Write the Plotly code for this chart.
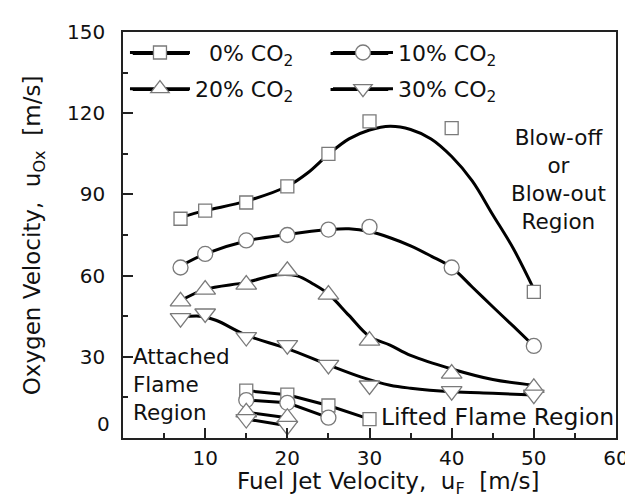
import plotly.graph_objects as go

# ---- measured points (markers) ----
u_fuel = [7, 10, 15, 20, 25, 30, 40, 50]
uox_co2_0 = [81, 84, 87, 93, 105, 117, 114.5, 54]
uox_co2_10 = [63, 68, 73, 75, 77, 78, 63, 34]
uox_co2_20 = [50.5, 54.8, 56.7, 61.8, 53, 36, 23.8, 18.5]
uox_co2_30 = [44.3, 46, 37.3, 34.3, 27, 19.4, 17.3, 16]

# ---- fitted curves ----
fit0_x = [7, 10, 15, 20, 22.5, 25, 27.5, 30, 32.5, 35, 37.5, 40, 42.5, 45, 47.5, 50]
fit0_y = [81.5, 84, 87.5, 93, 98, 104.8, 110.5, 113.8, 115.2, 114, 110.5, 104, 95, 82.5, 70, 55]
fit10_x = [7, 10, 15, 20, 25, 27.5, 30, 32.5, 35, 37.5, 40, 42.5, 45, 47.5, 50]
fit10_y = [63.5, 68, 72.8, 75.2, 77, 77.3, 76.3, 74, 71, 67.2, 63, 55.8, 48.5, 41.3, 34]
fit20_x = [7, 10, 15, 18.8, 21.2, 23.2, 25, 27.5, 30, 32.5, 35, 40, 45, 50]
fit20_y = [50.7, 54.9, 57.5, 60.3, 59.9, 56.8, 53.2, 45.3, 37.5, 34.3, 30.5, 25.5, 21.6, 19.5]
fit30_x = [7, 9.3, 11.3, 15, 20, 25, 29, 32.5, 35, 40, 45, 50]
fit30_y = [44.5, 45, 43.5, 38, 33, 27, 22.5, 19.5, 18.4, 17.1, 16.5, 15.9]

# ---- lifted-flame (lower) branch ----
lift0_x = [15, 20, 25, 30]
lift0_y = [17.5, 16, 12, 7]
lift10_x = [15, 20, 25]
lift10_y = [14, 13, 7.5]
lift20_x = [15, 20]
lift20_y = [9.5, 7.5]
lift30_x = [15, 20]
lift30_y = [7, 4.5]

names = ["\u20070% CO<sub>2</sub>", "10% CO<sub>2</sub>", "20% CO<sub>2</sub>", "30% CO<sub>2</sub>"]
x_ticks = [10, 20, 30, 40, 50, 60]
y_ticks = [0, 30, 60, 90, 120, 150]

FONT = "DejaVu Sans"
TXT = "#111111"
symbols = ["square", "circle", "triangle-up", "triangle-down"]
msizes = [13, 15, 18, 18]

def mk(i):
    return dict(symbol=symbols[i], size=msizes[i], color="white",
                line=dict(color="#7a7a7a", width=1.3))

line_style = dict(color="black", width=3)

fig = go.Figure()

fits = [(fit0_x, fit0_y), (fit10_x, fit10_y), (fit20_x, fit20_y), (fit30_x, fit30_y)]
for fx, fy in fits:
    fig.add_trace(go.Scatter(x=fx, y=fy, mode="lines", line=dict(shape="spline", **line_style),
                             showlegend=False, hoverinfo="skip"))

lifts = [(lift0_x, lift0_y), (lift10_x, lift10_y), (lift20_x, lift20_y), (lift30_x, lift30_y)]
for lx, ly in lifts:
    fig.add_trace(go.Scatter(x=lx, y=ly, mode="lines", line=line_style,
                             showlegend=False, hoverinfo="skip"))

main = [uox_co2_0, uox_co2_10, uox_co2_20, uox_co2_30]
for i, ys in enumerate(main):
    fig.add_trace(go.Scatter(x=u_fuel, y=ys, mode="markers", marker=mk(i), showlegend=False))
for i, (lx, ly) in enumerate(lifts):
    fig.add_trace(go.Scatter(x=lx, y=ly, mode="markers", marker=mk(i), showlegend=False))

# legend entries (two legends = two rows)
for i in range(4):
    fig.add_trace(go.Scatter(x=[None], y=[None], mode="lines+markers", name=names[i],
                             line=line_style, marker=mk(i),
                             legend="legend" if i in (0, 1) else "legend2"))

axis_common = dict(showline=True, linecolor="#222222", linewidth=1.5, mirror=True,
                   ticks="inside", ticklen=10, tickwidth=1.5, tickcolor="#222222",
                   showgrid=False, zeroline=False,
                   tickfont=dict(family=FONT, size=20, color=TXT))

fig.update_xaxes(range=[0, 60], tickvals=x_ticks, ticklabelstandoff=1,
                 minor=dict(dtick=5, tick0=5, ticks="inside", ticklen=5, tickwidth=1.5,
                            tickcolor="#222222"),
                 **axis_common)
fig.update_yaxes(range=[0, 150], tickvals=y_ticks,
                 ticktext=["" if v == 0 else str(v) for v in y_ticks],
                 ticklabelstandoff=12,
                 minor=dict(dtick=15, tick0=15, ticks="inside", ticklen=5, tickwidth=1.5,
                            tickcolor="#222222"),
                 **axis_common)

leg_common = dict(orientation="h", xanchor="left", yanchor="middle", x=0.004,
                  itemwidth=60, entrywidth=128, bgcolor="rgba(0,0,0,0)",
                  font=dict(family=FONT, size=22, color=TXT))

# long legend sample lines (behind the legend symbols)
row_y = [0.947, 0.8585]
col_x = [(0.0198, 0.134), (0.421, 0.538)]
shapes = []
for ry in row_y:
    for x0, x1 in col_x:
        shapes.append(dict(type="line", xref="paper", yref="paper", x0=x0, x1=x1,
                           y0=ry, y1=ry, line=dict(color="black", width=3)))

fig.update_layout(
    width=633, height=497,
    margin=dict(l=115, r=12, t=20, b=67),
    paper_bgcolor="white", plot_bgcolor="white",
    legend=dict(y=0.949, **leg_common),
    legend2=dict(y=0.860, **leg_common),
    shapes=shapes,
)

ann_font = dict(family=FONT, size=21.5, color=TXT)
fig.add_annotation(x=53.0, y=95.5, xref="x", yref="y", showarrow=False, align="center",
                   text="Blow-off<br>or<br>Blow-out<br>Region", font=ann_font)
fig.add_annotation(x=1.0, y=19.8, xref="x", yref="y", showarrow=False, align="left",
                   xanchor="left", text="Attached<br>Flame<br>Region", font=ann_font)
fig.add_annotation(x=31.2, y=7.6, xref="x", yref="y", showarrow=False, xanchor="left",
                   text="Lifted Flame Region", font=dict(family=FONT, size=23.5, color=TXT))
# shifted zero label of the y axis
fig.add_annotation(x=-0.022, y=5.2, xref="paper", yref="y", showarrow=False, xanchor="right",
                   text="0", font=dict(family=FONT, size=20, color=TXT))
# axis titles
fig.add_annotation(x=0.5385, y=-0.112, xref="paper", yref="paper", showarrow=False,
                   yanchor="middle", text="Fuel Jet Velocity,\u00a0\u00a0u<sub>F</sub>\u00a0\u00a0[m/s]",
                   font=dict(family=FONT, size=23, color=TXT))
fig.add_annotation(x=-0.18, y=0.5, xref="paper", yref="paper", showarrow=False,
                   textangle=-90, xanchor="center", yanchor="middle",
                   text="Oxygen Velocity,\u00a0\u00a0u<sub>Ox</sub>\u00a0\u00a0[m/s]",
                   font=dict(family=FONT, size=23, color=TXT))

fig.write_html("out.html")
